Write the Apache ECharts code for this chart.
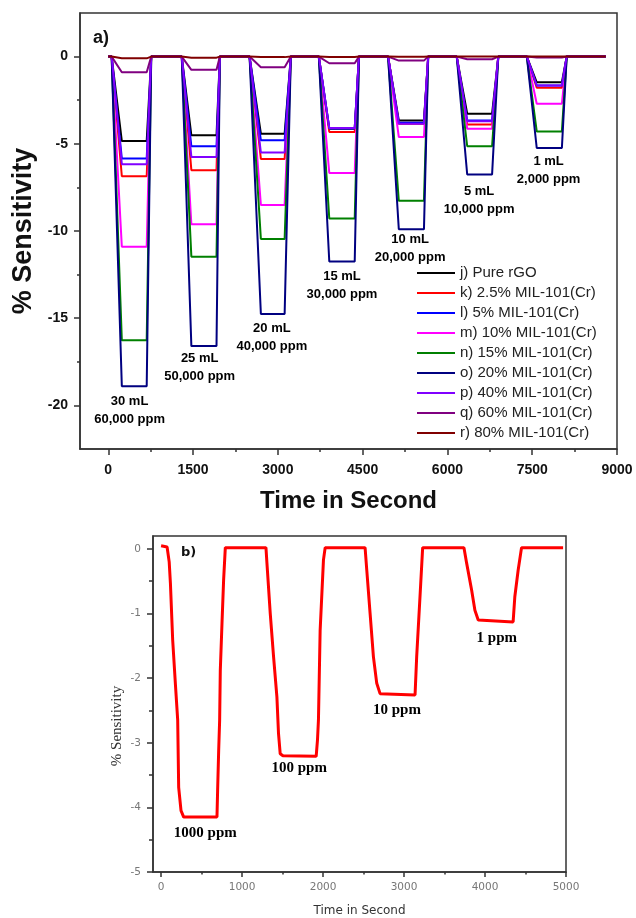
<!DOCTYPE html>
<html>
<head>
<meta charset="utf-8">
<script src="https://cdn.jsdelivr.net/npm/echarts@6/dist/echarts.min.js"></script>
<style>
  html, body { margin: 0; padding: 0; background: #fff; }
  #main { width: 636px; height: 918px; }
</style>
</head>
<body>
<div id="main"></div>
<script>
// ---- panel a) : 7 exposure pulses, one plateau value per pulse per film ----
var pulseStart  = [60, 1300, 2500, 3725, 4950, 6165, 7405];
var pulseBottom = [240, 1470, 2700, 3910, 5140, 6350, 7580];
var pulseEnd    = [680, 1915, 3120, 4360, 5585, 6790, 8025];
var pulseReturn = [760, 1975, 3230, 4435, 5660, 6900, 8110];
var traceStart = 0, traceEnd = 8800;

var filmNames = ['j) Pure rGO', 'k) 2.5% MIL-101(Cr)', 'l) 5% MIL-101(Cr)', 'm) 10% MIL-101(Cr)',
  'n) 15% MIL-101(Cr)', 'o) 20% MIL-101(Cr)', 'p) 40% MIL-101(Cr)', 'q) 60% MIL-101(Cr)', 'r) 80% MIL-101(Cr)'];
var filmColors = ['#000000', '#ff0000', '#0000ff', '#ff00ff', '#008000', '#000080', '#8000ff', '#800080', '#800000'];

var pureRGO   = [-4.84, -4.51, -4.42, -4.13, -3.66, -3.27, -1.47];
var mil2p5    = [-6.86, -6.51, -5.87, -4.32, -3.85, -3.90, -1.79];
var mil5      = [-5.85, -5.14, -4.80, -4.12, -3.80, -3.66, -1.66];
var mil10     = [-10.9, -9.62, -8.51, -6.67, -4.61, -4.13, -2.70];
var mil15     = [-16.27, -11.47, -10.46, -9.28, -8.27, -5.14, -4.29];
var mil20     = [-18.9, -16.6, -14.76, -11.75, -9.9, -6.76, -5.24];
var mil40     = [-6.17, -5.75, -5.50, -4.10, -3.85, -3.70, -1.66];
var mil60     = [-0.90, -0.76, -0.61, -0.38, -0.23, -0.15, -0.05];
var mil80     = [-0.10, -0.06, -0.03, -0.02, -0.01, 0, 0];
var filmLevels = [pureRGO, mil2p5, mil5, mil10, mil15, mil20, mil40, mil60, mil80];

var annoA = ['30 mL\n60,000 ppm', '25 mL\n50,000 ppm', '20 mL\n40,000 ppm', '15 mL\n30,000 ppm',
  '10 mL\n20,000 ppm', '5 mL\n10,000 ppm', '1 mL\n2,000 ppm'];
var annoAAt = [[377, -20.3], [1617, -17.83], [2895, -16.1], [4135, -13.1], [5340, -11.0], [6560, -8.23], [7790, -6.5]];

var ticksAX = [0, 1500, 3000, 4500, 6000, 7500, 9000];
var minorAX = [750, 2250, 3750, 5250, 6750, 8250];
var ticksAY = [0, -5, -10, -15, -20];
var minorAY = [-2.5, -7.5, -12.5, -17.5];

// ---- panel b) : single film, 4 concentrations ----
var bTime  = [0, 74, 100, 115, 143, 176, 205, 217, 246, 279, 690, 698, 711, 723, 731, 752, 772, 793,
  1295, 1307, 1348, 1389, 1430, 1450, 1471, 1504, 1915, 1931, 1943, 1964, 2005, 2026,
  2519, 2540, 2581, 2622, 2663, 2704, 3136, 3156, 3197, 3230,
  3740, 3773, 3835, 3875, 3916, 4347, 4368, 4409, 4451, 4964];
var bValue = [0.05, 0.03, -0.2, -0.53, -1.41, -2.08, -2.65, -3.69, -4.05, -4.15, -4.15, -3.74, -3.12, -2.65, -1.88, -1.15, -0.48, 0.02,
  0.02, -0.22, -1.0, -1.67, -2.29, -2.86, -3.17, -3.20, -3.21, -2.96, -2.65, -1.26, -0.17, 0.02,
  0.02, -0.33, -1.0, -1.67, -2.08, -2.24, -2.26, -1.67, -0.74, 0.02,
  0.02, -0.22, -0.64, -0.95, -1.10, -1.13, -0.74, -0.33, 0.02, 0.02];

var annoB = ['1000 ppm', '100 ppm', '10 ppm', '1 ppm'];
var annoBAt = [[546, -4.40], [1705, -3.40], [2913, -2.50], [4145, -1.38]];

var ticksBX = [0, 1000, 2000, 3000, 4000, 5000];
var minorBX = [500, 1500, 2500, 3500, 4500];
var ticksBY = [0, -1, -2, -3, -4, -5];
var minorBY = [-0.5, -1.5, -2.5, -3.5, -4.5];

var SANS = "'Liberation Sans', Arial, sans-serif";
var SERIF = "'Liberation Serif', 'Times New Roman', serif";
var VERD = "'DejaVu Sans', Verdana, sans-serif";

function pulseTrace(levels) {
  var pts = [[traceStart, 0]];
  for (var i = 0; i < levels.length; i++) {
    pts.push([pulseStart[i], 0], [pulseBottom[i], levels[i]], [pulseEnd[i], levels[i]], [pulseReturn[i], 0]);
  }
  pts.push([traceEnd, 0]);
  return pts;
}

function plainNum(v) { return String(v); }

function mainAxis(gridIndex, min, max, labels, labelStyle, tickLen, lineW) {
  return {
    type: 'value', gridIndex: gridIndex, min: min, max: max,
    axisLine: { show: true, onZero: false, lineStyle: { color: '#333', width: lineW } },
    axisTick: { show: true, inside: false, length: tickLen, customValues: labels, lineStyle: { color: '#333', width: lineW } },
    axisLabel: Object.assign({ customValues: labels, formatter: plainNum }, labelStyle),
    splitLine: { show: false }
  };
}
function minorAxis(gridIndex, min, max, values, tickLen, lineW) {
  return {
    type: 'value', gridIndex: gridIndex, min: min, max: max,
    axisLine: { show: false, onZero: false },
    axisTick: { show: true, inside: false, length: tickLen, customValues: values, lineStyle: { color: '#333', width: lineW } },
    axisLabel: { show: false },
    splitLine: { show: false }
  };
}

var labA = { fontFamily: SANS, fontWeight: 'bold', fontSize: 14, color: '#111' };
var labB = { fontFamily: VERD, fontSize: 10.5, color: '#777' };

var xA = mainAxis(0, -500, 9000, ticksAX, Object.assign({ margin: 14 }, labA), 6, 1.5);
xA.position = 'bottom';
xA.name = 'Time in Second';
xA.nameLocation = 'middle';
xA.nameGap = 40;
xA.nameTextStyle = { fontFamily: SANS, fontWeight: 'bold', fontSize: 24, color: '#111' };
var xAm = minorAxis(0, -500, 9000, minorAX, 3, 1.5);
xAm.position = 'bottom';

var yA = mainAxis(0, -22.5, 2.5, ticksAY, Object.assign({ margin: 12 }, labA), 6, 1.5);
yA.position = 'left';
yA.name = '% Sensitivity';
yA.nameLocation = 'middle';
yA.nameGap = 40;
yA.nameTextStyle = { fontFamily: SANS, fontWeight: 'bold', fontSize: 27, color: '#111' };
var yAm = minorAxis(0, -22.5, 2.5, minorAY, 3, 1.5);
yAm.position = 'left';

var xB = mainAxis(1, -100, 5000, ticksBX, Object.assign({ margin: 10 }, labB), 5, 1.5);
xB.position = 'bottom';
xB.name = 'Time in Second';
xB.nameLocation = 'middle';
xB.nameGap = 33;
xB.nameTextStyle = { fontFamily: VERD, fontSize: 12, color: '#333', letterSpacing: 1 };
var xBm = minorAxis(1, -100, 5000, minorBX, 2.5, 1.5);
xBm.position = 'bottom';

var yB = mainAxis(1, -5, 0.2, ticksBY, Object.assign({ margin: 12 }, labB), 6, 1.5);
yB.position = 'left';
var yBm = minorAxis(1, -5, 0.2, minorBY, 4, 1.5);
yBm.position = 'left';

var series = [];
for (var i = 0; i < filmNames.length; i++) {
  series.push({
    name: filmNames[i], type: 'line', xAxisIndex: 0, yAxisIndex: 0,
    data: pulseTrace(filmLevels[i]), showSymbol: false, symbol: 'none',
    lineStyle: { color: filmColors[i], width: 2 }, itemStyle: { color: filmColors[i] }
  });
}
series.push({
  type: 'scatter', xAxisIndex: 0, yAxisIndex: 0, symbolSize: 0, silent: true,
  itemStyle: { opacity: 1 },
  data: annoAAt.map(function (p, k) { return { value: p, name: annoA[k] }; }),
  label: { show: true, position: 'inside', formatter: '{b}', fontFamily: SANS, fontWeight: 'bold',
    fontSize: 13, lineHeight: 18, color: '#000', opacity: 1, textBorderWidth: 0, align: 'center', verticalAlign: 'middle' }
});
series.push({
  name: 'b', type: 'line', xAxisIndex: 2, yAxisIndex: 2, showSymbol: false, symbol: 'none',
  data: bTime.map(function (t, k) { return [t, bValue[k]]; }),
  lineStyle: { color: '#ff0000', width: 3 }
});
series.push({
  type: 'scatter', xAxisIndex: 2, yAxisIndex: 2, symbolSize: 0, silent: true,
  itemStyle: { opacity: 1 },
  data: annoBAt.map(function (p, k) { return { value: p, name: annoB[k] }; }),
  label: { show: true, position: 'inside', formatter: '{b}', fontFamily: SERIF, fontWeight: 'bold',
    fontSize: 15, color: '#000', opacity: 1, textBorderWidth: 0, letterSpacing: 0.5, align: 'center', verticalAlign: 'middle' }
});

var myChart = echarts.init(document.getElementById('main'), null, { renderer: 'canvas' });

var option = {
  backgroundColor: '#fff',
  animation: false,
  title: [
    { text: 'a)', left: 93, top: 29, padding: 0, textStyle: { fontFamily: SANS, fontWeight: 'bold', fontSize: 18, color: '#111' } },
    { text: 'b)', left: 181, top: 546, padding: 0, textStyle: { fontFamily: VERD, fontWeight: 'bold', fontSize: 13, color: '#111' } }
  ],
  legend: {
    data: filmNames, orient: 'vertical', left: 417, top: 265, padding: 0,
    icon: 'rect', itemWidth: 38, itemHeight: 2, itemGap: 4,
    textStyle: { fontFamily: SANS, fontSize: 15, color: '#222', lineHeight: 16 }
  },
  grid: [
    { left: 80, top: 13, width: 537, height: 436, show: true, borderColor: '#333', borderWidth: 1.5, backgroundColor: 'transparent' },
    { left: 153, top: 536, width: 413, height: 336, show: true, borderColor: '#333', borderWidth: 1.5, backgroundColor: 'transparent' }
  ],
  xAxis: [xA, xAm, xB, xBm],
  yAxis: [yA, yAm, yB, yBm],
  graphic: [{
    type: 'text', x: 117, y: 726, rotation: Math.PI / 2,
    style: { text: '% Sensitivity', font: '15px ' + SERIF, fill: '#333', align: 'center', verticalAlign: 'middle' }
  }],
  series: series
};

myChart.setOption(option);
</script>
</body>
</html>
